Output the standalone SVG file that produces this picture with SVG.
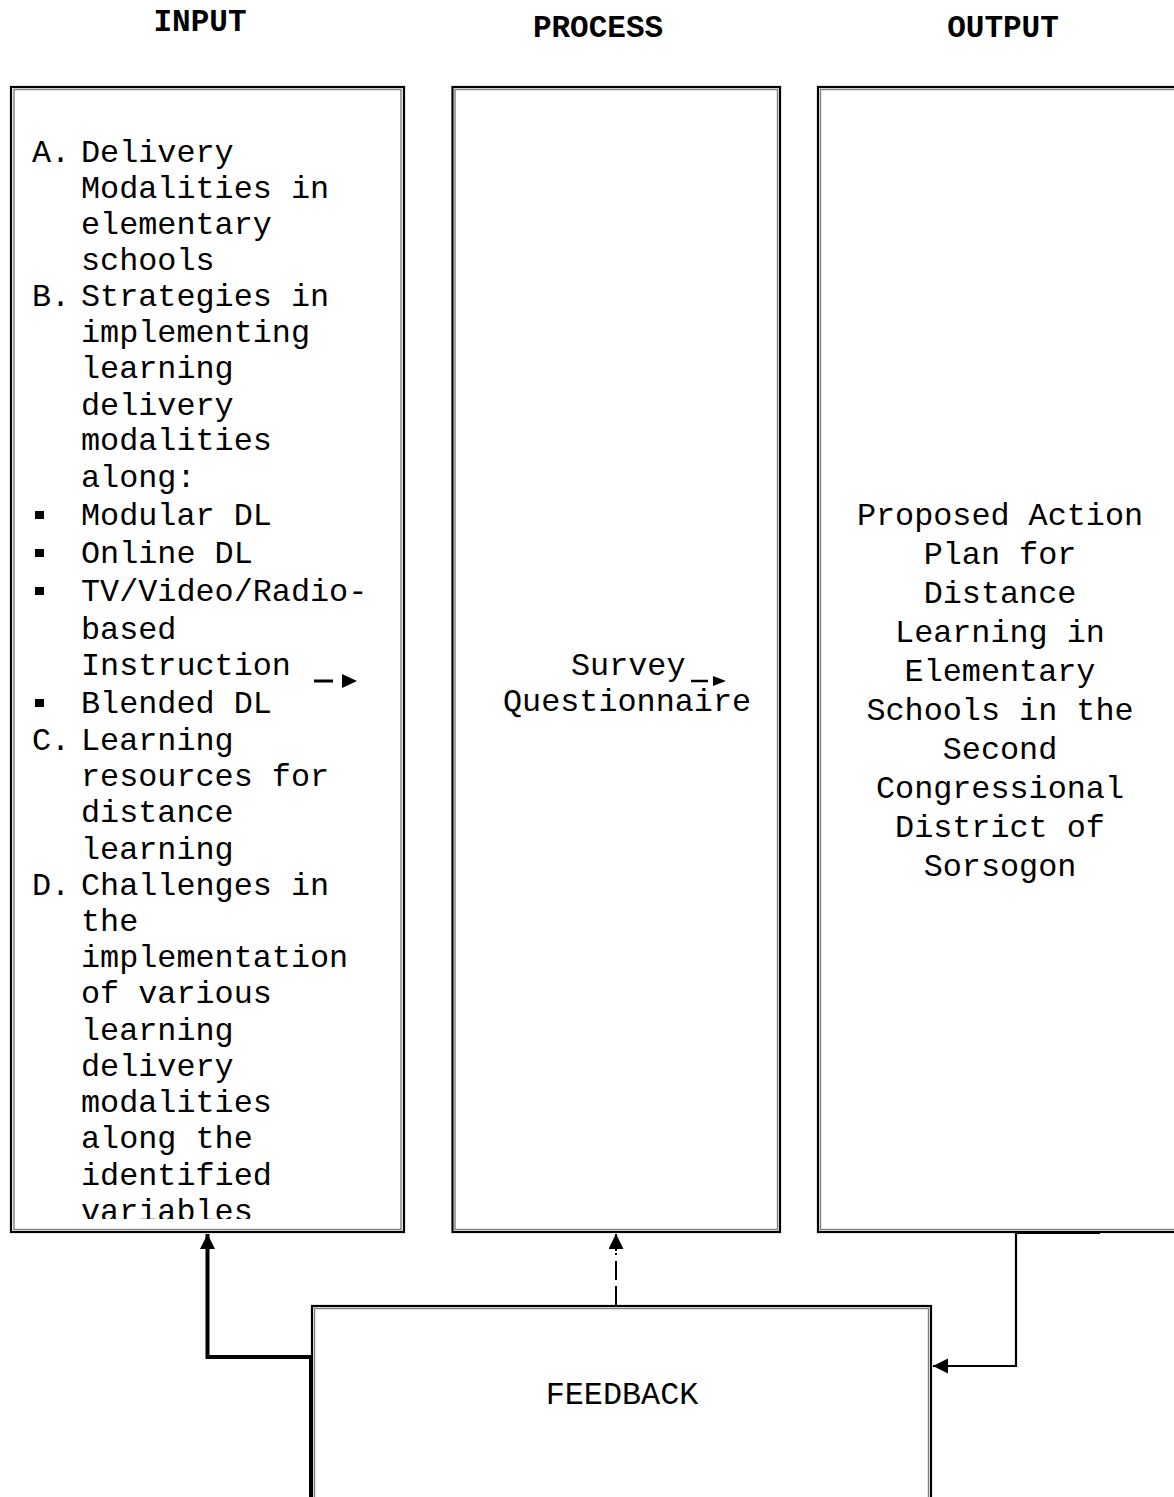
<svg xmlns="http://www.w3.org/2000/svg" width="1174" height="1497" viewBox="0 0 1174 1497">
<style>
  .t { font-family: "Liberation Mono", "Courier New", monospace; font-size: 31.8px; fill: #000; }
  .h { font-family: "Liberation Mono", "Courier New", monospace; font-size: 31px; font-weight: bold; fill: #000; }
  .ob { fill: none; stroke: #000; stroke-width: 2.2; }
  .ib { fill: none; stroke: #808080; stroke-width: 1.4; }
  .c { fill: none; stroke: #000; }
</style>
<defs>
  <clipPath id="inClip"><rect x="12" y="88" width="391" height="1131"/></clipPath>
  <marker id="ah" markerUnits="userSpaceOnUse" markerWidth="16" markerHeight="16" refX="15" refY="7.5" orient="auto">
    <path d="M0,0 L15,7.5 L0,15 Z" fill="#000"/>
  </marker>
</defs>

<g id="headers">
  <text class="h" x="200" y="31" text-anchor="middle">INPUT</text>
  <text class="h" x="598" y="37" text-anchor="middle">PROCESS</text>
  <text class="h" x="1003" y="37" text-anchor="middle">OUTPUT</text>
</g>

<g id="input">
  <rect class="ob" x="11" y="87" width="393" height="1145"/>
  <rect class="ib" x="14" y="89.5" width="387" height="1140"/>
  <g clip-path="url(#inClip)">
    <text class="t" x="32" y="162">A.</text>
    <text class="t" x="81" y="162">Delivery</text>
    <text class="t" x="81" y="198">Modalities in</text>
    <text class="t" x="81" y="234">elementary</text>
    <text class="t" x="81" y="270">schools</text>
    <text class="t" x="32" y="306">B.</text>
    <text class="t" x="81" y="306">Strategies in</text>
    <text class="t" x="81" y="342">implementing</text>
    <text class="t" x="81" y="378">learning</text>
    <text class="t" x="81" y="415">delivery</text>
    <text class="t" x="81" y="450">modalities</text>
    <text class="t" x="81" y="487">along:</text>
    <rect x="35" y="511" width="9" height="8"/>
    <text class="t" x="81" y="525">Modular DL</text>
    <rect x="35" y="549" width="9" height="8"/>
    <text class="t" x="81" y="563">Online DL</text>
    <rect x="35" y="587" width="9" height="8"/>
    <text class="t" x="81" y="601">TV/Video/Radio-</text>
    <text class="t" x="81" y="639">based</text>
    <text class="t" x="81" y="675">Instruction</text>
    <rect x="35" y="699" width="9" height="8"/>
    <text class="t" x="81" y="713">Blended DL</text>
    <text class="t" x="32" y="750">C.</text>
    <text class="t" x="81" y="750">Learning</text>
    <text class="t" x="81" y="786">resources for</text>
    <text class="t" x="81" y="822">distance</text>
    <text class="t" x="81" y="859">learning</text>
    <text class="t" x="32" y="895">D.</text>
    <text class="t" x="81" y="895">Challenges in</text>
    <text class="t" x="81" y="931">the</text>
    <text class="t" x="81" y="967">implementation</text>
    <text class="t" x="81" y="1003">of various</text>
    <text class="t" x="81" y="1040">learning</text>
    <text class="t" x="81" y="1076">delivery</text>
    <text class="t" x="81" y="1112">modalities</text>
    <text class="t" x="81" y="1148">along the</text>
    <text class="t" x="81" y="1185">identified</text>
    <text class="t" x="81" y="1221">variables</text>
  </g>
</g>

<g id="process">
  <rect class="ob" x="452.5" y="87" width="327.5" height="1145"/>
  <rect class="ib" x="455" y="89.5" width="322.5" height="1140"/>
  <text class="t" x="571" y="675">Survey</text>
  <text class="t" x="503" y="711">Questionnaire</text>
</g>

<g id="output">
  <rect class="ob" x="818" y="87" width="370" height="1145"/>
  <rect class="ib" x="820.5" y="89.5" width="370" height="1140"/>
  <text class="t" x="1000" y="525" text-anchor="middle">Proposed Action</text>
  <text class="t" x="1000" y="564" text-anchor="middle">Plan for</text>
  <text class="t" x="1000" y="603" text-anchor="middle">Distance</text>
  <text class="t" x="1000" y="642" text-anchor="middle">Learning in</text>
  <text class="t" x="1000" y="681" text-anchor="middle">Elementary</text>
  <text class="t" x="1000" y="720" text-anchor="middle">Schools in the</text>
  <text class="t" x="1000" y="759" text-anchor="middle">Second</text>
  <text class="t" x="1000" y="798" text-anchor="middle">Congressional</text>
  <text class="t" x="1000" y="837" text-anchor="middle">District of</text>
  <text class="t" x="1000" y="876" text-anchor="middle">Sorsogon</text>
</g>

<g id="feedback">
  <rect class="ob" x="312" y="1306" width="619" height="220"/>
  <rect class="ib" x="314.5" y="1308.5" width="614" height="220"/>
  <text class="t" x="622" y="1404" text-anchor="middle">FEEDBACK</text>
</g>

<g id="connectors">
  <path class="c" stroke-width="4" d="M311,1497 V1357 H207.5 V1234" marker-end="url(#ah)"/>
  <path class="c" stroke-width="2" d="M616,1305 V1253" stroke-dasharray="19,6"/>
  <path class="c" stroke-width="2" d="M616,1251 V1234" marker-end="url(#ah)"/>
  <path class="c" stroke-width="2.2" d="M1100,1233 H1016 V1366 H933" marker-end="url(#ah)"/>
  <path class="c" stroke-width="3" d="M314,681 H333"/>
  <polygon points="342,674 357,681 342,688" fill="#000"/>
  <path class="c" stroke-width="2.5" d="M691,681 H708"/>
  <polygon points="713,676 726,681 713,686" fill="#000"/>
</g>
</svg>
